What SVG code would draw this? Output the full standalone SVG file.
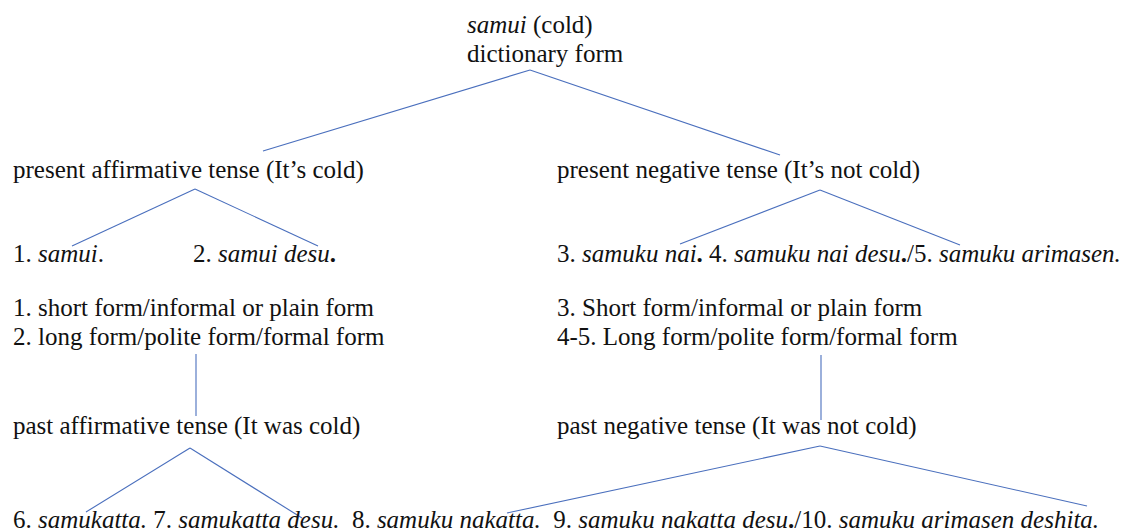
<svg xmlns="http://www.w3.org/2000/svg" width="1125" height="531" viewBox="0 0 1125 531">
<style>
  text { font-family: "Liberation Serif", "Times New Roman", serif; font-size: 25px; fill: #111; white-space: pre; }
  .i { font-style: italic; }
  .b { font-weight: bold; font-style: normal; }
  .edge { stroke: #4a6fbd; stroke-width: 1.1; fill: none; }
</style>
<rect width="1125" height="531" fill="#ffffff"/>
<g id="connectors">
  <line class="edge" x1="530" y1="70" x2="263" y2="151"/>
  <line class="edge" x1="530" y1="70" x2="780" y2="155"/>
  <line class="edge" x1="195" y1="189" x2="72" y2="246"/>
  <line class="edge" x1="195" y1="189" x2="318" y2="246"/>
  <line class="edge" x1="820" y1="190" x2="680" y2="244"/>
  <line class="edge" x1="820" y1="190" x2="960" y2="245"/>
  <line class="edge" x1="196" y1="354" x2="196" y2="416"/>
  <line class="edge" x1="821" y1="355" x2="821" y2="420"/>
  <line class="edge" x1="190" y1="448" x2="86" y2="512"/>
  <line class="edge" x1="190" y1="448" x2="302" y2="518"/>
  <line class="edge" x1="820" y1="446" x2="507" y2="513"/>
  <line class="edge" x1="820" y1="446" x2="1087" y2="506"/>
</g>
<g id="root">
  <text x="467" y="33"><tspan class="i">samui</tspan> (cold)</text>
  <text x="467" y="62">dictionary form</text>
</g>
<g id="present-affirmative">
  <text x="13" y="178">present affirmative tense (It’s cold)</text>
</g>
<g id="present-negative">
  <text x="557" y="178">present negative tense (It’s not cold)</text>
</g>
<g id="form-1">
  <text x="13" y="262">1. <tspan class="i">samui</tspan>.</text>
</g>
<g id="form-2">
  <text x="193" y="262">2. <tspan class="i">samui desu</tspan><tspan class="b">.</tspan></text>
</g>
<g id="forms-3-5">
  <text x="557" y="262">3. <tspan class="i">samuku nai</tspan><tspan class="b">.</tspan> 4. <tspan class="i">samuku nai desu</tspan><tspan class="b">.</tspan>/5. <tspan class="i">samuku arimasen.</tspan></text>
</g>
<g id="notes-affirmative">
  <text x="13" y="316">1. short form/informal or plain form</text>
  <text x="13" y="345">2. long form/polite form/formal form</text>
</g>
<g id="notes-negative">
  <text x="557" y="316">3. Short form/informal or plain form</text>
  <text x="557" y="345">4-5. Long form/polite form/formal form</text>
</g>
<g id="past-affirmative">
  <text x="13" y="434">past affirmative tense (It was cold)</text>
</g>
<g id="past-negative">
  <text x="557" y="434">past negative tense (It was not cold)</text>
</g>
<g id="past-forms">
  <text x="13" y="528">6. <tspan class="i">samukatta.</tspan> 7. <tspan class="i">samukatta desu.</tspan>  8. <tspan class="i">samuku nakatta.</tspan>  9. <tspan class="i">samuku nakatta desu</tspan><tspan class="b">.</tspan>/10. <tspan class="i">samuku arimasen deshita.</tspan></text>
</g>
</svg>
